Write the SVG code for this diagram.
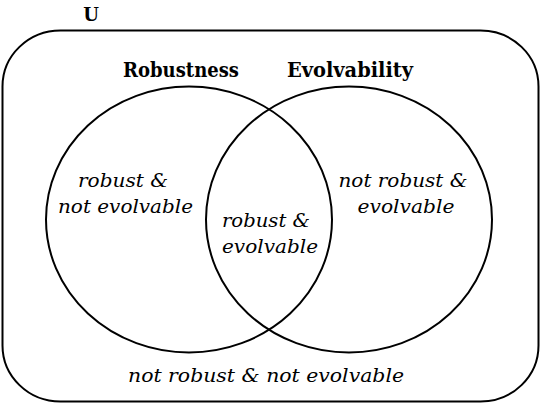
<svg xmlns="http://www.w3.org/2000/svg" width="542" height="404" viewBox="0 0 542 404">
<style>
.shape{fill:none;stroke:#000;stroke-width:2}
.lbl{font-family:'DejaVu Serif',serif;font-weight:bold;fill:#000}
.reg{font-family:'DejaVu Serif',serif;font-style:italic;font-size:19px;fill:#000;text-anchor:middle}
</style>
<rect width="542" height="404" fill="#fff"/>
<g id="universe">
<rect class="shape" x="2.5" y="30.5" width="536" height="371" rx="58" ry="56"/>
<text class="lbl" x="91" y="21" font-size="18" text-anchor="middle">U</text>
</g>
<g id="robustness">
<ellipse class="shape" cx="189" cy="219.5" rx="143" ry="133"/>
<text class="lbl" x="181" y="77" font-size="21" text-anchor="middle" textLength="116" lengthAdjust="spacingAndGlyphs">Robustness</text>
</g>
<g id="evolvability">
<ellipse class="shape" cx="349" cy="219.5" rx="143" ry="133"/>
<text class="lbl" x="350" y="77" font-size="21" text-anchor="middle" textLength="126" lengthAdjust="spacingAndGlyphs">Evolvability</text>
</g>
<g id="region-robust-only">
<text class="reg" x="123" y="187" textLength="90" lengthAdjust="spacingAndGlyphs">robust &amp;</text>
<text class="reg" x="125.5" y="213" textLength="135" lengthAdjust="spacingAndGlyphs">not evolvable</text>
</g>
<g id="region-both">
<text class="reg" x="266" y="227" textLength="88" lengthAdjust="spacingAndGlyphs">robust &amp;</text>
<text class="reg" x="270" y="253" textLength="96" lengthAdjust="spacingAndGlyphs">evolvable</text>
</g>
<g id="region-evolvable-only">
<text class="reg" x="403" y="187" textLength="129" lengthAdjust="spacingAndGlyphs">not robust &amp;</text>
<text class="reg" x="406" y="213" textLength="97" lengthAdjust="spacingAndGlyphs">evolvable</text>
</g>
<g id="region-neither">
<text class="reg" x="266" y="382" textLength="276" lengthAdjust="spacingAndGlyphs">not robust &amp; not evolvable</text>
</g>
<g id="connectors"></g>
</svg>
